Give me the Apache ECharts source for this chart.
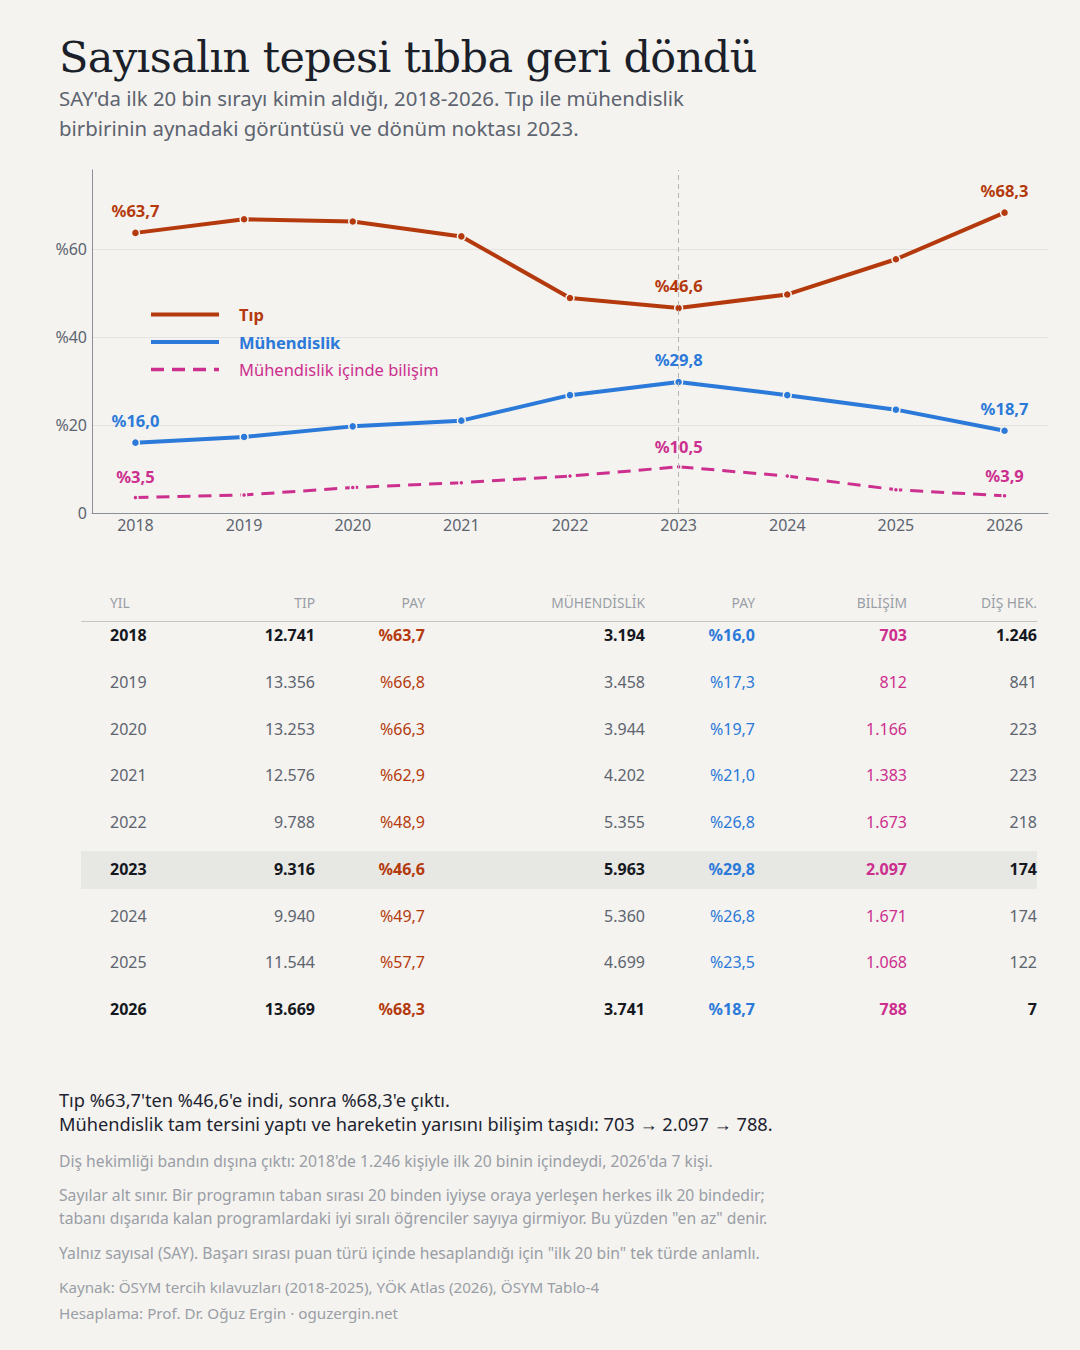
<!DOCTYPE html>
<html lang="tr">
<head>
<meta charset="utf-8">
<script src="https://cdn.jsdelivr.net/npm/echarts@6/dist/echarts.min.js"></script>
<style>
  html, body { margin:0; padding:0; background:#f4f3ef; }
  body { width:1080px; height:1350px; position:relative; overflow:hidden; font-family:"Noto Sans", sans-serif; }
  #chart { position:absolute; left:0; top:150px; width:1080px; height:400px; }
  .t { position:absolute; white-space:nowrap; }
  #title { left:59px; top:32px; font-family:"DejaVu Serif", Georgia, serif; font-size:43px; color:#1b1f2a; letter-spacing:-0.6px; }
  #sub { left:59px; top:83px; font-size:20.4px; line-height:30px; color:#5d6470; }
  .cell { position:absolute; white-space:nowrap; font-size:16px; line-height:20px; }
  .hdr { position:absolute; white-space:nowrap; font-size:13.8px; color:#9a9ea6; line-height:20px; }
  #foot1 { left:59px; top:1088px; font-size:18.2px; line-height:24px; color:#1d2330; }
  .note { left:59px; font-size:15.7px; line-height:23px; color:#9a9ea6; }
  .src { left:59px; font-size:15.2px; line-height:20px; color:#9a9ea6; }
</style>
</head>
<body>
<div class="t" id="title">Sayısalın tepesi tıbba geri döndü</div>
<div class="t" id="sub">SAY'da ilk 20 bin sırayı kimin aldığı, 2018-2026. Tıp ile mühendislik<br>birbirinin aynadaki görüntüsü ve dönüm noktası 2023.</div>
<div id="chart"></div>
<div id="table"></div>
<div class="t" id="foot1">Tıp %63,7'ten %46,6'e indi, sonra %68,3'e çıktı.<br>Mühendislik tam tersini yaptı ve hareketin yarısını bilişim taşıdı: 703 → 2.097 → 788.</div>
<div class="t note" style="top:1150px">Diş hekimliği bandın dışına çıktı: 2018'de 1.246 kişiyle ilk 20 binin içindeydi, 2026'da 7 kişi.</div>
<div class="t note" style="top:1184px">Sayılar alt sınır. Bir programın taban sırası 20 binden iyiyse oraya yerleşen herkes ilk 20 bindedir;<br>tabanı dışarıda kalan programlardaki iyi sıralı öğrenciler sayıya girmiyor. Bu yüzden "en az" denir.</div>
<div class="t note" style="top:1242px">Yalnız sayısal (SAY). Başarı sırası puan türü içinde hesaplandığı için "ilk 20 bin" tek türde anlamlı.</div>
<div class="t src" style="top:1277px">Kaynak: ÖSYM tercih kılavuzları (2018-2025), YÖK Atlas (2026), ÖSYM Tablo-4</div>
<div class="t src" style="top:1303px">Hesaplama: Prof. Dr. Oğuz Ergin · oguzergin.net</div>

<script>
// ---- data ----
var years = [2018, 2019, 2020, 2021, 2022, 2023, 2024, 2025, 2026];
var tipCount = [12741, 13356, 13253, 12576, 9788, 9316, 9940, 11544, 13669];
var tipShare = [63.7, 66.8, 66.3, 62.9, 48.9, 46.6, 49.7, 57.7, 68.3];
var muhCount = [3194, 3458, 3944, 4202, 5355, 5963, 5360, 4699, 3741];
var muhShare = [16.0, 17.3, 19.7, 21.0, 26.8, 29.8, 26.8, 23.5, 18.7];
var bilCount = [703, 812, 1166, 1383, 1673, 2097, 1671, 1068, 788];
var bilShare = [3.5, 4.1, 5.8, 6.9, 8.4, 10.5, 8.4, 5.3, 3.9];
var disCount = [1246, 841, 223, 223, 218, 174, 174, 122, 7];
var yTicks = [0, 20, 40, 60];
var labelYears = [2018, 2023, 2026];
var boldYears = [2018, 2023, 2026];
var highlightYear = 2023;
var headers = ['YIL', 'TIP', 'PAY', 'MÜHENDİSLİK', 'PAY', 'BİLİŞİM', 'DİŞ HEK.'];

var C_TIP = '#b43a0e', C_MUH = '#2b79d9', C_BIL = '#cc2f8e';
var DASH = [13, 8];

function fmtInt(n) { return String(n).replace(/\B(?=(\d{3})+(?!\d))/g, '.'); }
function fmtPct(v) { return '%' + v.toFixed(1).replace('.', ','); }

function seriesData(vals) {
  return years.map(function (y, i) { return [y, vals[i]]; });
}

function mkSeries(name, vals, color, width, dashed, symSize) {
  return {
    name: name, type: 'line', data: seriesData(vals),
    symbol: 'circle', symbolSize: symSize,
    itemStyle: { color: color, borderColor: '#f4f3ef', borderWidth: 1.5 },
    lineStyle: { color: color, width: width, type: dashed ? DASH : 'solid' },
    label: {
      show: true, position: 'top', distance: 9,
      color: color, fontFamily: 'Noto Sans', fontWeight: 'bold', fontSize: 16.5,
      formatter: function (p) { return labelYears.indexOf(p.value[0]) >= 0 ? fmtPct(p.value[1]) : ''; }
    },
    emphasis: { disabled: true },
    z: dashed ? 2 : 3
  };
}

var chart = echarts.init(document.getElementById('chart'), null, { renderer: 'svg' });
var tipS = mkSeries('Tıp', tipShare, C_TIP, 4, false, 8);
tipS.markLine = {
  silent: true, symbol: 'none', label: { show: false },
  lineStyle: { color: '#b5b5b5', type: [5, 4], width: 1 },
  data: [{ xAxis: highlightYear }]
};
chart.setOption({
  animation: false,
  backgroundColor: 'transparent',
  textStyle: { fontFamily: 'Noto Sans' },
  grid: { left: 92, right: 32, top: 20, bottom: 37 },
  xAxis: {
    type: 'value', min: 2017.6, max: 2026.4,
    axisLine: { show: true, lineStyle: { color: '#8a8f98', width: 1 } },
    axisTick: { show: false, customValues: years },
    splitLine: { show: false },
    axisLabel: { customValues: years, color: '#5d6470', fontSize: 16, margin: 4, formatter: function (v) { return String(v); } }
  },
  yAxis: {
    type: 'value', min: 0, max: 78,
    axisLine: { show: true, lineStyle: { color: '#8a8f98', width: 1 } },
    axisTick: { show: false, customValues: yTicks },
    splitLine: { show: true, lineStyle: { color: '#e3e2de', width: 1 } },
    axisLabel: { customValues: yTicks, color: '#5d6470', fontSize: 16, margin: 5, formatter: function (v) { return v === 0 ? '0' : '%' + v; } }
  },
  legend: {
    orient: 'vertical', left: 144, top: 151,
    itemWidth: 68, itemHeight: 14, itemGap: 10.5,
    itemStyle: { opacity: 0 },
    textStyle: { fontSize: 16.5, padding: [0, 0, 0, 15] },
    data: [
      { name: 'Tıp', textStyle: { color: C_TIP, fontWeight: 'bold' }, lineStyle: { width: 4, color: C_TIP } },
      { name: 'Mühendislik', textStyle: { color: C_MUH, fontWeight: 'bold' }, lineStyle: { width: 4, color: C_MUH } },
      { name: 'Mühendislik içinde bilişim', textStyle: { color: C_BIL }, lineStyle: { width: 3.5, color: C_BIL, type: DASH } }
    ],
    selectedMode: false
  },
  series: [
    tipS,
    mkSeries('Mühendislik', muhShare, C_MUH, 4, false, 8),
    mkSeries('Mühendislik içinde bilişim', bilShare, C_BIL, 3, true, 5)
  ]
});

// ---- table ----
var tbl = document.getElementById('table');
var colRight = [null, 315, 425, 645, 755, 907, 1037];
var yearLeft = 110;
var headerTop = 593;
var rowTop0 = 625, rowStep = 46.75;
function addDiv(cls, text, style) {
  var d = document.createElement('div');
  d.className = cls; d.textContent = text;
  for (var k in style) d.style[k] = style[k];
  tbl.appendChild(d);
  return d;
}
var hi = years.indexOf(highlightYear);
addDiv('', '', { position: 'absolute', left: '81px', width: '956px', top: (rowTop0 + hi * rowStep - 8) + 'px', height: '38px', background: '#e7e7e4' });
headers.forEach(function (h, c) {
  if (c === 0) addDiv('hdr', h, { left: yearLeft + 'px', top: headerTop + 'px' });
  else addDiv('hdr', h, { right: (1080 - colRight[c]) + 'px', top: headerTop + 'px' });
});
addDiv('', '', { position: 'absolute', left: '81px', width: '956px', top: '621px', height: '1px', background: '#c4c5c8' });
years.forEach(function (y, i) {
  var bold = boldYears.indexOf(y) >= 0;
  var base = bold ? '#15181e' : '#5d6470';
  var top = (rowTop0 + i * rowStep) + 'px';
  var fw = bold ? '700' : '400';
  var cells = [String(y), fmtInt(tipCount[i]), fmtPct(tipShare[i]), fmtInt(muhCount[i]), fmtPct(muhShare[i]), fmtInt(bilCount[i]), fmtInt(disCount[i])];
  var colors = [base, base, C_TIP, base, C_MUH, C_BIL, base];
  cells.forEach(function (txt, c) {
    var st = { top: top, color: colors[c], fontWeight: fw };
    if (c === 0) st.left = yearLeft + 'px'; else st.right = (1080 - colRight[c]) + 'px';
    addDiv('cell', txt, st);
  });
});
</script>
</body>
</html>
